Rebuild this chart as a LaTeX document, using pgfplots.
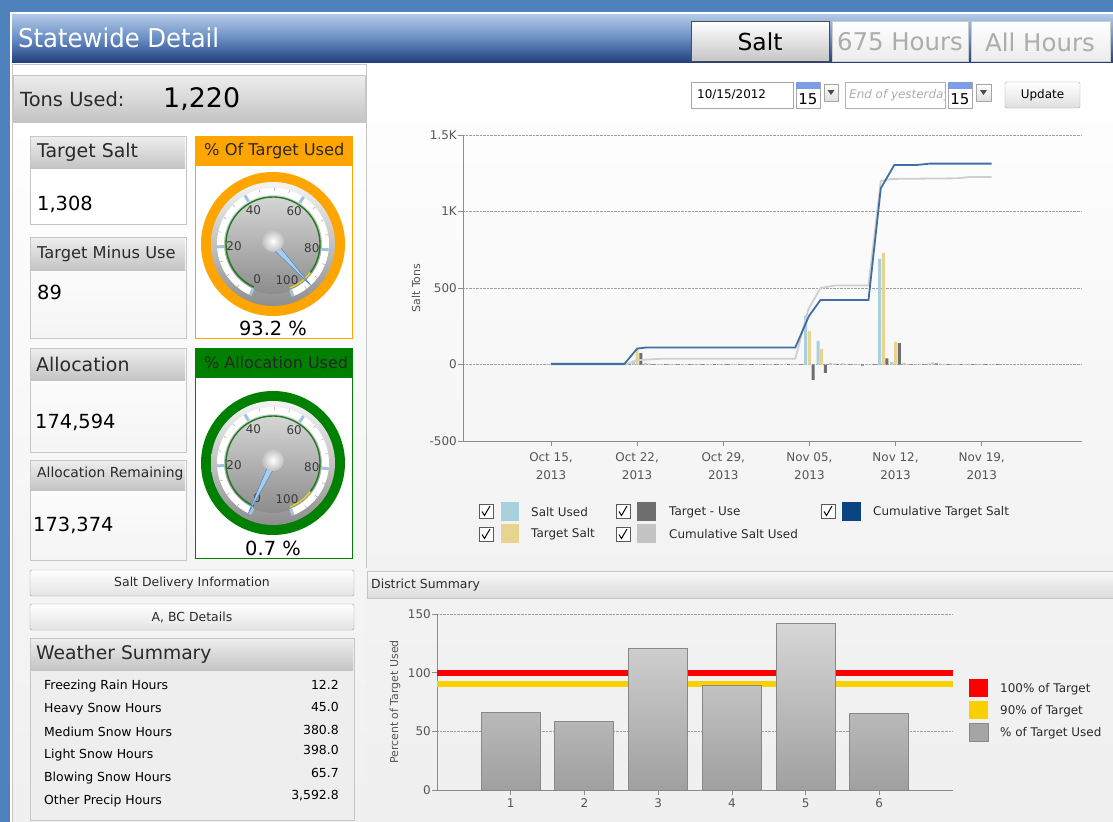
\documentclass[border=0pt]{standalone}
\usepackage{pgfplots}
\pgfplotsset{compat=1.18}
\usepackage{pgfplotstable}
\usepackage{fontspec}
\setmainfont{DejaVu Sans}
\newfontfamily\cond[FakeStretch=0.94]{DejaVu Sans}
\newcommand\fs[1]{\fontsize{#1}{#1}\selectfont}

\definecolor{bgblue}{HTML}{4F81BD}
\definecolor{titA}{HTML}{B4CBE8}
\definecolor{titB}{HTML}{6A8EC4}
\definecolor{titC}{HTML}{22407D}
\definecolor{hdrA}{HTML}{EDEDED}
\definecolor{hdrB}{HTML}{C4C4C4}
\definecolor{brd}{HTML}{C6C6C6}
\definecolor{txt}{HTML}{2A2A2A}
\definecolor{lblgray}{HTML}{555555}
\definecolor{axgray}{HTML}{8C8C8C}
\definecolor{gridgray}{HTML}{A0A0A0}
\definecolor{saltblue}{HTML}{A8D0DD}
\definecolor{tan}{HTML}{E8D390}
\definecolor{dgray}{HTML}{6E6E6E}
\definecolor{navy}{HTML}{0B4581}
\definecolor{lgray}{HTML}{C4C4C4}
\definecolor{lineblue}{HTML}{3F6FA3}
\definecolor{linegray}{HTML}{CFCFCF}
\definecolor{orng}{HTML}{FFA500}
\definecolor{grn}{HTML}{008000}
\definecolor{bezA}{HTML}{F4F4F4}
\definecolor{bezB}{HTML}{8E8E8E}
\definecolor{faceA}{HTML}{D8D8D8}
\definecolor{faceB}{HTML}{8C8C8C}
\definecolor{tickblue}{HTML}{9FC3E0}
\definecolor{needle}{HTML}{A9CDEB}
\definecolor{needleedge}{HTML}{3C7FC0}
\definecolor{gtext}{HTML}{3A3A3A}
\definecolor{gaugegreen}{HTML}{1E7A1E}
\definecolor{barA}{HTML}{D6D6D6}
\definecolor{barB}{HTML}{A0A0A0}
\definecolor{barE}{HTML}{888888}
\definecolor{red100}{HTML}{FF0000}
\definecolor{yel90}{HTML}{F8D000}

% daily bars (day 0 = Oct 15, 2013)
\pgfplotstableread{
day used
0 3
1 3
2 3
3 3
4 3
5 3
6 3
7 25
8 10
9 3
10 3
11 3
12 3
13 3
14 3
15 3
16 3
17 3
18 3
19 3
20 3
21 320
22 155
23 10
24 8
25 3
26 3
27 690
28 15
29 10
30 3
31 8
32 4
33 3
34 3
35 3
36 3
}\usedtab
\pgfplotstableread{
day target
0 3
1 3
2 3
3 3
4 3
5 3
6 3
7 100
8 8
9 3
10 3
11 3
12 3
13 3
14 3
15 3
16 3
17 3
18 3
19 3
20 3
21 220
22 100
23 8
24 3
25 3
26 3
27 730
28 150
29 3
30 3
31 15
32 3
33 3
34 3
35 3
36 3
}\targettab
\pgfplotstableread{
day diff
0 2
1 2
2 2
3 2
4 2
5 2
6 2
7 75
8 3
9 2
10 2
11 2
12 2
13 2
14 2
15 2
16 2
17 2
18 2
19 2
20 2
21 -100
22 -55
23 2
24 2
25 -8
26 2
27 40
28 140
29 2
30 2
31 8
32 2
33 2
34 2
35 2
36 2
}\difftab
\pgfplotstableread{
day cum
0 4
5.97 4
7.0 104
7.73 111
19.85 111
20.95 315
21.9 422
25.8 422
26.8 1152
27.9 1304
29.7 1304
30.8 1313
35.8 1313
}\cumtarget
\pgfplotstableread{
day cum
0 0
6.1 0
7.0 28
8.8 37
19.85 37
20.9 359
21.9 500
23.1 517
25.8 517
26.8 1200
27.7 1213
33.0 1217
34.1 1226
35.8 1226
}\cumused
\pgfplotstableread{
district pct
1 66
2 58
3 121
4 89
5 142
6 65
}\districts

\newcommand\gauge[4]{%
\begin{scope}[shift={(#1,#2)}, y=1bp]
  \fill[#3] (0,0) circle (72);
  \shade[top color=bezA, bottom color=bezB] (0,0) circle (62);
  \shade[top color=faceA, bottom color=faceB] (0,0) circle (50);
  \fill[white] (246:56) arc[start angle=246, end angle=-69, radius=56] -- (-69:49) arc[start angle=-69, end angle=246, radius=49] -- cycle;
  \foreach \v in {0,5,...,100}{\draw[gray!60, line width=0.6bp] ({246-3.15*\v}:53) -- ({246-3.15*\v}:56);}
  \foreach \v in {0,20,...,100}{\draw[tickblue, line width=3bp] ({246-3.15*\v}:49) -- ({246-3.15*\v}:56);}
  \draw[gaugegreen, line width=1.4bp] (246:47) arc[start angle=246, end angle={246-3.15*90}, radius=47];
  \draw[yellow!85!black, line width=1.4bp] ({246-3.15*90}:47) arc[start angle={246-3.15*90}, end angle=-69, radius=47];
  \foreach \v in {0,20,...,100}{\node[text=gtext, font=\fs{12}, inner sep=0] at ({246-3.15*\v}:39) {\v};}
  \pgfmathsetmacro\na{246-3.15*#4}
  \fill[needle, draw=needleedge, line width=0.4bp] (\na+90:3.5) -- (\na:57) -- (\na-90:3.5) -- cycle;
  \shade[inner color=white, outer color=gray!50] (0,3) circle (11);
\end{scope}}

\newcommand\checkbox[2]{%
  \fill[white, draw=gray!70!black, line width=0.6bp] (#1-7,#2-7) rectangle (#1+7,#2+7);
  \draw[black, line width=1bp] (#1-4,#2+0.5) -- (#1-1.5,#2+4.5) -- (#1+4,#2-5);}

\begin{document}
\begin{tikzpicture}
\begin{scope}[x=1bp, y=-1bp]
  % frame
  \fill[bgblue] (0,0) rectangle (1113,822);
  \fill[white] (10,12) rectangle (1113,822);
  \shade[top color=titA, bottom color=titC, middle color=titB] (12,14) rectangle (1113,62);
  \node[anchor=west, inner sep=0, text=white, font=\cond\fs{26}] at (18,38) {Statewide Detail};
  % tabs
  \shade[top color=white, bottom color=gray!45, draw=gray!60!black] (691,21) rectangle (829,61);
  \node[font=\fs{23.5}, text=black] at (760,42) {Salt};
  \shade[top color=white, bottom color=gray!15, draw=gray!40] (832,21) rectangle (968,61);
  \node[font=\fs{24.5}, text=gray!65] at (900,42) {675 Hours};
  \shade[top color=white, bottom color=gray!15, draw=gray!40] (971,21) rectangle (1110,61);
  \node[font=\fs{24.5}, text=gray!65] at (1040,42) {All Hours};

  % left column
  \shade[top color=white, bottom color=gray!12, draw=brd] (12,64) rectangle (366,822);
  \shade[top color=hdrA, bottom color=hdrB, draw=brd] (13,75) rectangle (365,122);
  \node[anchor=west, inner sep=0, font=\fs{19.5}, text=txt] at (20,99) {Tons Used:};
  \node[anchor=west, inner sep=0, font=\fs{27}, text=black] at (163,99) {1,220};

  % Target Salt
  \fill[white, draw=brd] (30,136) rectangle (186,224);
  \shade[top color=hdrA, bottom color=hdrB] (31,137) rectangle (185,168);
  \node[anchor=west, inner sep=0, font=\fs{19}, text=txt] at (37,152) {Target Salt};
  \node[anchor=west, inner sep=0, font=\fs{19.5}, text=black] at (37,204) {1,308};
  % Target Minus Use
  \shade[top color=white, bottom color=gray!8, draw=brd] (30,237) rectangle (186,338);
  \shade[top color=hdrA, bottom color=hdrB] (31,238) rectangle (185,270);
  \node[anchor=west, inner sep=0, font=\fs{16.3}, text=txt] at (37,254) {Target Minus Use};
  \node[anchor=west, inner sep=0, font=\fs{19.5}, text=black] at (37,292) {89};
  % Allocation
  \shade[top color=white, bottom color=gray!8, draw=brd] (30,348) rectangle (186,452);
  \shade[top color=hdrA, bottom color=hdrB] (31,349) rectangle (185,380);
  \node[anchor=west, inner sep=0, font=\fs{19}, text=txt] at (36,364) {Allocation};
  \node[anchor=west, inner sep=0, font=\fs{19.5}, text=black] at (35,422) {174,594};
  % Allocation Remaining
  \shade[top color=white, bottom color=gray!8, draw=brd] (30,460) rectangle (186,560);
  \shade[top color=hdrA, bottom color=hdrB] (31,461) rectangle (185,490);
  \node[anchor=west, inner sep=0, font=\fs{13.9}, text=txt] at (37,474) {Allocation Remaining};
  \node[anchor=west, inner sep=0, font=\fs{19.5}, text=black] at (33,525) {173,374};

  % % Of Target Used
  \fill[white, draw=orng, line width=1bp] (195,136) rectangle (352,338);
  \fill[orng] (195,136) rectangle (352,166);
  \node[anchor=west, inner sep=0, font=\fs{16.3}, text=txt] at (204,151) {\% Of Target Used};
  \gauge{273}{244}{orng}{93.2}
  \node[font=\fs{19.5}, text=black] at (273,328) {93.2 \%};
  % % Allocation Used
  \fill[white, draw=grn, line width=1bp] (195,348) rectangle (352,558);
  \fill[grn] (195,348) rectangle (352,378);
  \node[anchor=west, inner sep=0, font=\fs{16}, text=black!85] at (204,363) {\% Allocation Used};
  \gauge{273}{463}{grn}{0.7}
  \node[font=\fs{19.5}, text=black] at (273,548) {0.7 \%};

  % buttons
  \shade[top color=white, bottom color=gray!22, draw=gray!75, rounded corners=1.5bp] (30,570) rectangle (354,596);
  \node[font=\fs{12.5}, text=txt] at (192,583) {Salt Delivery Information};
  \shade[top color=white, bottom color=gray!22, draw=gray!75, rounded corners=1.5bp] (30,604) rectangle (354,630);
  \node[font=\fs{12.5}, text=txt] at (192,617) {A, BC Details};
  % Weather summary
  \fill[gray!13, draw=brd] (30,638) rectangle (354,820);
  \shade[top color=hdrA, bottom color=hdrB] (31,639) rectangle (353,670);
  \node[anchor=west, inner sep=0, font=\fs{18.8}, text=txt] at (36,654) {Weather Summary};
  \foreach \lab/\yy/\val/\vy in {Freezing Rain Hours/686/12.2/685, Heavy Snow Hours/709/45.0/707, Medium Snow Hours/732/380.8/730, Light Snow Hours/755/398.0/750, Blowing Snow Hours/778/65.7/773, Other Precip Hours/801/{3,592.8}/796}{
    \node[anchor=west, inner sep=0, font=\fs{12.5}, text=black] at (44,\yy) {\lab};
    \node[anchor=east, inner sep=0, font=\fs{12.5}, text=black] at (339,\vy) {\val};
  }

  % right top panel
  \shade[top color=white, bottom color=gray!10] (367,64) rectangle (1113,567);
  % date controls
  \fill[white, draw=gray!70] (691,82) rectangle (793,108);
  \node[anchor=west, inner sep=0, font=\fs{12}, text=black] at (697,95) {10/15/2012};
  \fill[white, draw=gray!70] (796,82) rectangle (820,108);
  \fill[tickblue!80!blue] (796,82) rectangle (820,89);
  \node[font=\fs{15}, text=black] at (808,99) {15};
  \shade[top color=white, bottom color=gray!25, draw=gray!70] (824,84) rectangle (838,101);
  \fill[black!70] (827.5,90) -- (834.5,90) -- (831,95) -- cycle;
  \fill[white, draw=gray!60] (845,82) rectangle (945,108);
  \begin{scope}
    \clip (846,83) rectangle (944,107);
    \node[anchor=west, inner sep=0, font=\itshape\fs{12}, text=gray!65] at (849,95) {End of yesterday};
  \end{scope}
  \fill[white, draw=gray!70] (948,82) rectangle (972,108);
  \fill[tickblue!80!blue] (948,82) rectangle (972,89);
  \node[font=\fs{15}, text=black] at (960,99) {15};
  \shade[top color=white, bottom color=gray!25, draw=gray!70] (976,84) rectangle (991,101);
  \fill[black!70] (980,90) -- (987,90) -- (983.5,95) -- cycle;
  \shade[top color=white, bottom color=gray!25, draw=gray!70, rounded corners=1.5bp] (1005,82) rectangle (1080,108);
  \node[font=\fs{12}, text=black] at (1042.5,95) {Update};

  % top legend
  \checkbox{486}{511}
  \fill[saltblue] (501,502) rectangle (519,521);
  \node[anchor=west, inner sep=0, font=\fs{12}, text=txt] at (531,512) {Salt Used};
  \checkbox{623}{511}
  \fill[dgray] (637,502) rectangle (656,521);
  \node[anchor=west, inner sep=0, font=\fs{12}, text=txt] at (669,512) {Target - Use};
  \checkbox{828}{511}
  \fill[navy] (842,502) rectangle (861,521);
  \node[anchor=west, inner sep=0, font=\fs{12}, text=txt] at (873,512) {Cumulative Target Salt};
  \checkbox{486}{534}
  \fill[tan] (501,524) rectangle (519,543);
  \node[anchor=west, inner sep=0, font=\fs{12}, text=txt] at (531,534) {Target Salt};
  \checkbox{623}{534}
  \fill[lgray] (637,524) rectangle (656,543);
  \node[anchor=west, inner sep=0, font=\fs{12}, text=txt] at (669,534) {Cumulative Salt Used};

  % bottom right panel
  \shade[top color=gray!10, bottom color=gray!12] (366,568) rectangle (1113,822);
  \shade[top color=gray!5, bottom color=gray!28, draw=brd] (367,571) rectangle (1113,598);
  \node[anchor=west, inner sep=0, font=\fs{12.5}, text=txt] at (371,585) {District Summary};
  % bottom legend
  \fill[red100] (969,679) rectangle (988,697);
  \fill[yel90] (969,701) rectangle (988,719);
  \fill[barB!95!white, draw=barE] (969,723) rectangle (988,741);
  \node[anchor=west, inner sep=0, font=\fs{12}, text=txt] at (1000,689) {100\% of Target};
  \node[anchor=west, inner sep=0, font=\fs{12}, text=txt] at (1000,711) {90\% of Target};
  \node[anchor=west, inner sep=0, font=\fs{12}, text=txt] at (1000,733) {\% of Target Used};
\end{scope}

% ---------- top chart ----------
\begin{axis}[
  at={(463bp,-441bp)}, anchor=south west,
  scale only axis, width=619bp, height=306bp,
  xmin=-7.15, xmax=43.15, ymin=-500, ymax=1500,
  axis x line*=bottom, axis y line*=left,
  axis line style={draw=axgray, line width=0.8bp},
  xtick={0,7,14,21,28,35},
  xticklabels={{Oct 15,\\2013},{Oct 22,\\2013},{Oct 29,\\2013},{Nov 05,\\2013},{Nov 12,\\2013},{Nov 19,\\2013}},
  xticklabel style={align=center, font=\fontsize{12}{18}\selectfont, text=lblgray, yshift=-3bp},
  ytick={-500,0,500,1000,1500},
  yticklabels={-500,0,500,1K,1.5K},
  yticklabel style={font=\fs{12}, text=lblgray, inner sep=1bp},
  /pgf/number format/assume math mode=true,
  ymajorgrids, grid style={densely dotted, draw=gridgray, line width=0.7bp},
  tick style={draw=axgray, line width=0.7bp},
  major tick length=5bp, tick align=outside,
  ylabel={Salt Tons},
  ylabel style={at={(axis description cs:-0.076,0.5)}, anchor=center, font=\fs{11}, text=lblgray},
]
\addplot[ybar, bar width=3bp, bar shift=-3.7bp, fill=saltblue, draw=none] table[x=day, y=used] {\usedtab};
\addplot[ybar, bar width=3bp, bar shift=0bp, fill=tan, draw=none] table[x=day, y=target] {\targettab};
\addplot[ybar, bar width=3bp, bar shift=3.7bp, fill=dgray, draw=none] table[x=day, y=diff] {\difftab};
\addplot[linegray, line width=1.8bp, mark=none] table[x=day, y=cum] {\cumused};
\addplot[lineblue, line width=1.8bp, mark=none] table[x=day, y=cum] {\cumtarget};
\end{axis}

% ---------- bottom chart ----------
\begin{axis}[
  at={(437bp,-790bp)}, anchor=south west,
  scale only axis, width=516bp, height=176bp,
  xmin=0, xmax=7, ymin=0, ymax=150,
  axis x line*=bottom, axis y line*=left,
  axis line style={draw=axgray, line width=0.8bp},
  xtick={1,2,3,4,5,6},
  ytick={0,50,100,150},
  xticklabel style={font=\fs{12}, text=lblgray},
  yticklabel style={font=\fs{12}, text=lblgray, inner sep=1bp},
  /pgf/number format/assume math mode=true,
  ymajorgrids, grid style={densely dotted, draw=gridgray, line width=0.7bp},
  tick style={draw=axgray, line width=0.7bp},
  major tick length=5bp, tick align=outside,
  ylabel={Percent of Target Used},
  ylabel style={at={(axis description cs:-0.081,0.5)}, anchor=center, font=\fs{11}, text=lblgray},
]
\addplot[red100, line width=6bp, mark=none] coordinates {(0,100) (7,100)};
\addplot[yel90, line width=6bp, mark=none] coordinates {(0,90) (7,90)};
\addplot[ybar, bar width=0.8, bar shift=0pt, top color=barA, bottom color=barB, draw=barE, line width=1bp] table[x=district, y=pct] {\districts};
\end{axis}

\pgfresetboundingbox
\useasboundingbox (0,0) rectangle (1113bp,-822bp);
\end{tikzpicture}
\end{document}
